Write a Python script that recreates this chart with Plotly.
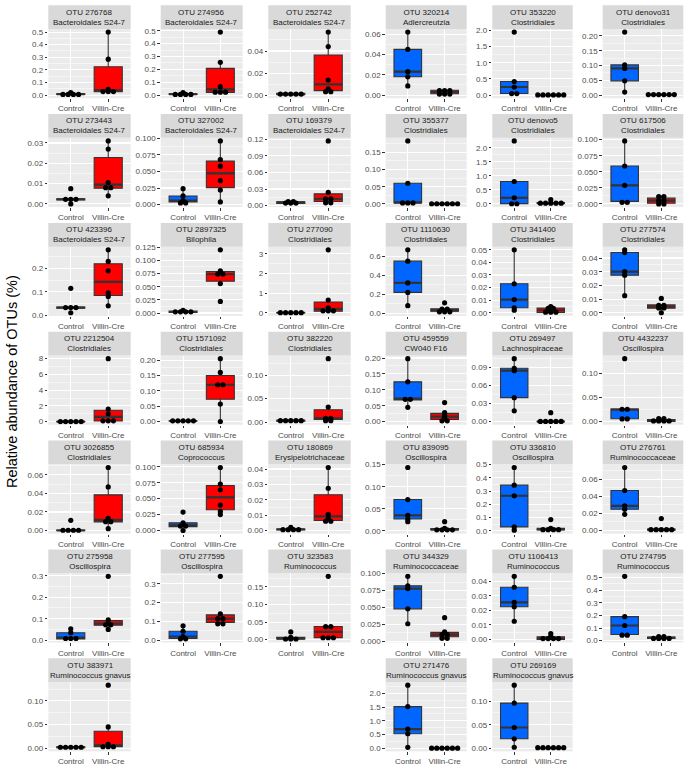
import numpy as np
import plotly.graph_objects as go

groups = ["Control", "Villin-Cre"]

otu_ids = [
    "276768", "274956", "252742", "273443", "327002", "169379", "423396", "2897325", "277090",
    "2212504", "1571092", "382220", "3026855", "685934", "180869", "275958", "277595", "323583",
    "383971",
    "320214", "353220", "denovo31", "355377", "denovo5", "617506", "1110630", "341400", "277574",
    "459559", "269497", "4432237", "839095", "336810", "276761", "344329", "1106413", "274795",
    "271476", "269169",
]

taxa = [
    "Bacteroidales S24-7", "Bacteroidales S24-7", "Bacteroidales S24-7", "Bacteroidales S24-7",
    "Bacteroidales S24-7", "Bacteroidales S24-7", "Bacteroidales S24-7", "Bilophila", "Clostridiales",
    "Clostridiales", "Clostridiales", "Clostridiales", "Clostridiales", "Coprococcus",
    "Erysipelotrichaceae", "Oscillospira", "Oscillospira", "Ruminococcus", "Ruminococcus gnavus",
    "Adlercreutzia", "Clostridiales", "Clostridiales", "Clostridiales", "Clostridiales", "Clostridiales",
    "Clostridiales", "Clostridiales", "Clostridiales", "CW040 F16", "Lachnospiraceae", "Oscillospira",
    "Oscillospira", "Oscillospira", "Ruminococcaceae", "Ruminococcaceae", "Ruminococcus", "Ruminococcus",
    "Ruminococcus gnavus", "Ruminococcus gnavus",
]

control_values = [
    [0.0, 0.005, 0.008, 0.01, 0.02],
    [0.0, 0.004, 0.007, 0.01, 0.02],
    [0.0005, 0.001, 0.0012, 0.002, 0.0022],
    [0.0, 0.002, 0.0023, 0.0025, 0.0075],
    [0.001, 0.004, 0.006, 0.013, 0.024],
    [0.003, 0.004, 0.006, 0.007, 0.0075],
    [0.01, 0.03, 0.032, 0.035, 0.115],
    [0.0005, 0.001, 0.002, 0.004, 0.005],
    [0.0, 0.0, 0.002, 0.005, 0.01],
    [0.0, 0.0, 0.0, 0.01, 0.02],
    [0.001, 0.002, 0.002, 0.003, 0.004],
    [0.001, 0.002, 0.003, 0.004, 0.005],
    [0.0, 0.0, 0.0, 0.0005, 0.011],
    [0.0, 0.006, 0.008, 0.012, 0.029],
    [0.0, 0.0003, 0.0008, 0.001, 0.002],
    [0.004, 0.006, 0.012, 0.035, 0.053],
    [0.005, 0.01, 0.02, 0.048, 0.077],
    [0.001, 0.002, 0.003, 0.007, 0.022],
    [0.0, 0.001, 0.002, 0.003, 0.004],
    [0.009, 0.018, 0.023, 0.045, 0.062],
    [0.04, 0.05, 0.25, 0.42, 1.95],
    [0.01, 0.048, 0.09, 0.102, 0.213],
    [0.002, 0.003, 0.004, 0.06, 0.183],
    [0.0, 0.01, 0.22, 0.8, 2.25],
    [0.001, 0.004, 0.029, 0.059, 0.098],
    [0.08, 0.22, 0.32, 0.55, 0.67],
    [0.002, 0.004, 0.0105, 0.023, 0.05],
    [0.0125, 0.0275, 0.03, 0.044, 0.046],
    [0.045, 0.068, 0.072, 0.125, 0.198],
    [0.018, 0.04, 0.085, 0.089, 0.105],
    [0.005, 0.006, 0.025, 0.026, 0.13],
    [0.021, 0.027, 0.035, 0.071, 0.1435],
    [0.005, 0.03, 0.265, 0.345, 0.478],
    [0.019, 0.025, 0.029, 0.047, 0.074],
    [0.026, 0.048, 0.078, 0.082, 0.096],
    [0.0125, 0.0225, 0.0255, 0.036, 0.0435],
    [0.038, 0.048, 0.12, 0.19, 0.51],
    [0.03, 0.53, 0.7, 1.52, 2.3],
    [0.002, 0.02, 0.044, 0.096, 0.134],
]

villin_values = [
    [0.025, 0.025, 0.03, 0.045, 0.285, 0.5],
    [0.02, 0.02, 0.025, 0.065, 0.255, 0.49],
    [0.003, 0.004, 0.006, 0.014, 0.044, 0.057],
    [0.004, 0.0075, 0.0085, 0.0105, 0.027, 0.031],
    [0.004, 0.022, 0.036, 0.058, 0.068, 0.096],
    [0.004, 0.006, 0.011, 0.013, 0.024, 0.117],
    [0.04, 0.08, 0.095, 0.19, 0.23, 0.28],
    [0.022, 0.056, 0.073, 0.075, 0.08, 0.12],
    [0.05, 0.06, 0.15, 0.25, 0.65, 3.2],
    [0.0, 0.05, 0.2, 1.0, 1.6, 8.0],
    [0.0, 0.057, 0.12, 0.12, 0.16, 0.205],
    [0.001, 0.005, 0.007, 0.009, 0.032, 0.135],
    [0.002, 0.009, 0.01, 0.013, 0.047, 0.068],
    [0.025, 0.03, 0.04, 0.064, 0.073, 0.099],
    [0.006, 0.006, 0.008, 0.0105, 0.0275, 0.041],
    [0.05, 0.068, 0.075, 0.08, 0.095, 0.297],
    [0.085, 0.09, 0.11, 0.12, 0.14, 0.34],
    [0.003, 0.005, 0.008, 0.036, 0.038, 0.18],
    [0.002, 0.003, 0.004, 0.008, 0.045, 0.133],
    [0.0, 0.001, 0.002, 0.004, 0.005, 0.005],
    [0.0, 0.0, 0.0, 0.0, 0.005, 0.01],
    [0.0, 0.0005, 0.001, 0.001, 0.002, 0.003],
    [0.0, 0.0, 0.0, 0.0, 0.0005, 0.001],
    [0.0, 0.01, 0.02, 0.03, 0.05, 0.15],
    [0.0, 0.0, 0.004, 0.006, 0.01, 0.013],
    [0.005, 0.02, 0.025, 0.035, 0.05, 0.11],
    [0.0, 0.0, 0.001, 0.003, 0.004, 0.005],
    [0.0, 0.003, 0.004, 0.005, 0.006, 0.0105],
    [0.0, 0.005, 0.012, 0.02, 0.028, 0.06],
    [0.0, 0.0, 0.0, 0.0, 0.0005, 0.015],
    [0.0, 0.0, 0.001, 0.003, 0.005, 0.007],
    [0.001, 0.002, 0.003, 0.004, 0.006, 0.021],
    [0.003, 0.005, 0.01, 0.015, 0.02, 0.085],
    [0.0, 0.0, 0.001, 0.001, 0.002, 0.014],
    [0.003, 0.006, 0.009, 0.011, 0.014, 0.035],
    [0.0, 0.0, 0.0, 0.001, 0.002, 0.004],
    [0.01, 0.015, 0.02, 0.025, 0.03, 0.035],
    [0.0, 0.0, 0.0, 0.001, 0.002, 0.003],
    [0.0, 0.0, 0.0, 0.0005, 0.001, 0.002],
]

y_dtick = [
    0.1, 0.1, 0.02, 0.01, 0.025, 0.03, 0.1, 0.025, 1, 2, 0.05, 0.05, 0.02, 0.025, 0.01, 0.1, 0.1,
    0.05, 0.05,
    0.02, 0.5, 0.05, 0.05, 0.5, 0.025, 0.2, 0.01, 0.01, 0.05, 0.03, 0.05, 0.05, 0.1, 0.02, 0.025,
    0.01, 0.1, 0.5, 0.05,
]
y_decimals = [
    1, 1, 2, 2, 3, 2, 1, 3, 0, 0, 2, 2, 2, 3, 2, 1, 1, 2, 2,
    2, 1, 2, 2, 1, 3, 1, 2, 2, 2, 2, 2, 2, 1, 2, 3, 2, 1, 1, 2,
]

group_colors = ["#0066FF", "#FF0000"]

# ---------------- layout geometry (pixels) ----------------
W, H = 685, 769
left_cols = [(48.3, 130.7), (160.7, 242.7), (268.3, 350.7)]
right_cols = [(385.7, 466.7), (492.3, 572.7), (602.7, 683.3)]
row_pitch = 110.0
strip_top0 = 1.2
strip_h = 24.0
panel_h = 70.0
n_left = 19

FONT = "Liberation Sans, Arial, sans-serif"

fig = go.Figure()
layout_axes = {}
shapes = []
annotations = []

box_width = 0.75
dot_px = 5.2

for i in range(len(otu_ids)):
    if i < n_left:
        r, c = divmod(i, 3)
        x0, x1 = left_cols[c]
    else:
        r, c = divmod(i - n_left, 3)
        x0, x1 = right_cols[c]
    st = strip_top0 + r * row_pitch
    sb = st + strip_h
    pb = sb + panel_h

    xa = "x" if i == 0 else f"x{i+1}"
    ya = "y" if i == 0 else f"y{i+1}"
    xkey = "xaxis" if i == 0 else f"xaxis{i+1}"
    ykey = "yaxis" if i == 0 else f"yaxis{i+1}"

    vals = [np.array(control_values[i], float), np.array(villin_values[i], float)]
    allv = np.concatenate(vals)
    lo, hi = allv.min(), allv.max()
    pad = 0.05 * (hi - lo)
    yr = [lo - pad, hi + pad]
    binw = (hi - lo) / 30.0
    px_per_unit = (x1 - x0) / 2.2
    spacing = dot_px / px_per_unit

    dot_x, dot_y = [], []
    for g, v in enumerate(vals):
        q1, med, q3 = np.percentile(v, [25, 50, 75])
        iqr = q3 - q1
        lf = v[v >= q1 - 1.5 * iqr].min()
        uf = v[v <= q3 + 1.5 * iqr].max()
        fig.add_trace(go.Box(
            x=[g], q1=[q1], median=[med], q3=[q3], lowerfence=[lf], upperfence=[uf],
            width=box_width, fillcolor=group_colors[g],
            line=dict(color="#333333", width=1.1), whiskerwidth=0,
            boxpoints=False, xaxis=xa, yaxis=ya, showlegend=False, hoverinfo="skip",
        ))
        fig.add_trace(go.Scatter(
            x=[g - box_width / 2, g + box_width / 2], y=[med, med], mode="lines",
            line=dict(color="#333333", width=2.2), xaxis=xa, yaxis=ya,
            showlegend=False, hoverinfo="skip",
        ))
        # dotplot-style binning along y, centered horizontal stacking
        sv = np.sort(v)
        k = 0
        while k < len(sv):
            start = sv[k]
            j = k
            while j + 1 < len(sv) and sv[j + 1] - start <= binw:
                j += 1
            members = sv[k:j + 1]
            n = len(members)
            yc = (members.min() + members.max()) / 2.0
            for m in range(n):
                dot_x.append(g + (m - (n - 1) / 2.0) * spacing)
                dot_y.append(yc)
            k = j + 1
    fig.add_trace(go.Scatter(
        x=dot_x, y=dot_y, mode="markers",
        marker=dict(color="black", size=dot_px, line=dict(width=0)),
        xaxis=xa, yaxis=ya, showlegend=False, hoverinfo="skip",
    ))

    dt = y_dtick[i]
    layout_axes[xkey] = dict(
        domain=[x0 / W, x1 / W], anchor=ya, range=[-0.6, 1.6],
        tickmode="array", tickvals=[0, 1], ticktext=groups,
        showgrid=True, gridcolor="white", gridwidth=1.1, zeroline=False,
        ticks="outside", ticklen=2.5, tickcolor="#333333", tickwidth=1,
        tickfont=dict(family=FONT, size=8, color="#4d4d4d"),
        showline=False, fixedrange=True,
    )
    layout_axes[ykey] = dict(
        domain=[1 - pb / H, 1 - sb / H], anchor=xa, range=yr,
        tick0=0, dtick=dt, tickformat=f".{y_decimals[i]}f",
        showgrid=True, gridcolor="white", gridwidth=1.1, zeroline=False,
        minor=dict(dtick=dt / 2, tick0=0, showgrid=True, gridcolor="white", gridwidth=0.5, ticks=""),
        ticks="outside", ticklen=2.5, tickcolor="#333333", tickwidth=1,
        tickfont=dict(family=FONT, size=8, color="#4d4d4d"),
        showline=False, fixedrange=True,
    )

    shapes.append(dict(
        type="rect", xref="paper", yref="paper",
        x0=x0 / W, x1=x1 / W, y0=1 - sb / H, y1=1 - st / H,
        fillcolor="#d9d9d9", line=dict(width=0), layer="below",
    ))
    annotations.append(dict(
        xref="paper", yref="paper", x=(x0 + x1) / 2 / W, y=1 - (st + sb) / 2 / H,
        text=f"OTU {otu_ids[i]}<br>{taxa[i]}", showarrow=False,
        xanchor="center", yanchor="middle", align="center",
        font=dict(family=FONT, size=8, color="#1a1a1a"),
    ))

annotations.append(dict(
    xref="paper", yref="paper", x=12 / W, y=1 - 382 / H,
    text="Relative abundance of OTUs (%)", showarrow=False, textangle=-90,
    xanchor="center", yanchor="middle",
    font=dict(family=FONT, size=14.5, color="black"),
))

fig.update_layout(
    width=W, height=H, margin=dict(l=0, r=0, t=0, b=0),
    paper_bgcolor="white", plot_bgcolor="#ebebeb",
    shapes=shapes, annotations=annotations, showlegend=False,
    hovermode=False, **layout_axes,
)

fig.write_html(
    "out.html",
    config={"displayModeBar": False, "staticPlot": True},
    post_script="document.body.style.margin='0';document.body.style.overflow='hidden';",
)
